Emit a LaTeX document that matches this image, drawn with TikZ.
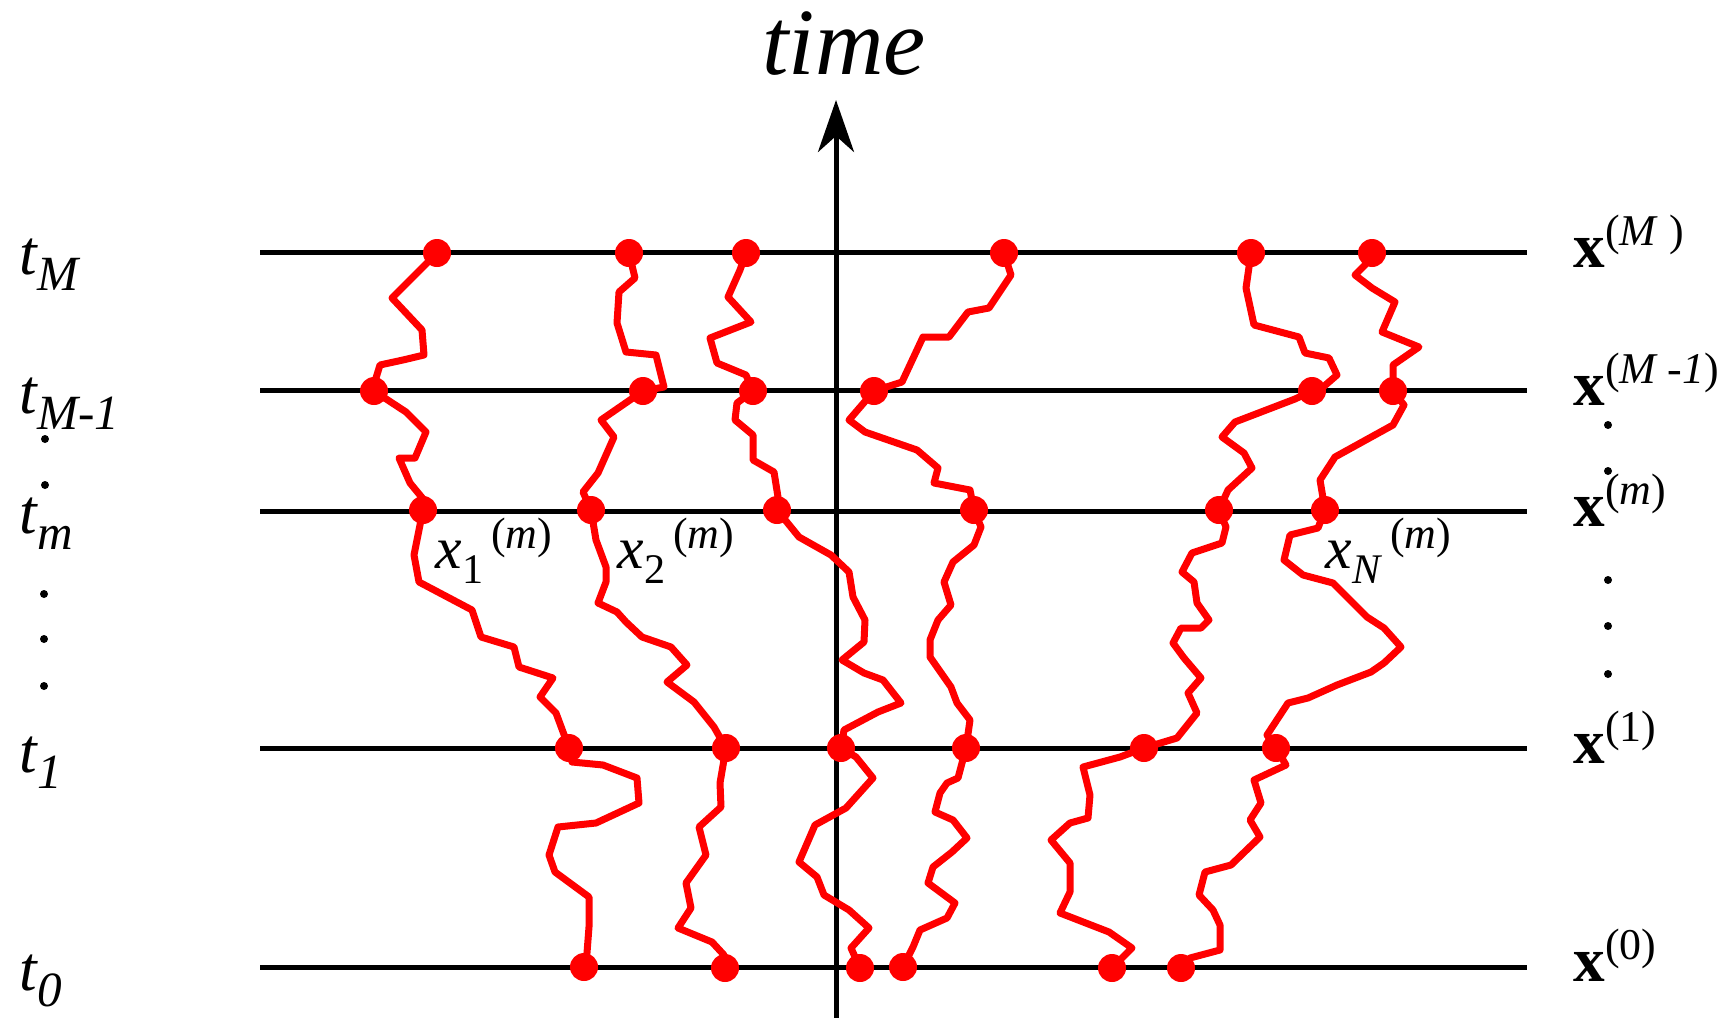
\documentclass[tikz,border=0pt]{standalone}
\usepackage{fontspec}
\setmainfont{Liberation Serif}[ItalicFont={Liberation Serif Italic}, BoldFont={Liberation Serif Bold}]
\usetikzlibrary{arrows.meta}

% labels: time level, state vector, walker
\newcommand{\tlab}[1]{{\fontsize{18}{20}\selectfont\itshape t\raisebox{-1.6mm}{\fontsize{14}{16}\selectfont #1}}}
\newcommand{\xlab}[1]{{\fontsize{18}{20}\selectfont\bfseries x}\raisebox{2.2mm}{\fontsize{12.5}{14}\selectfont(#1)}}
\newcommand{\plab}[1]{{\fontsize{17}{19}\selectfont\itshape x}\raisebox{-1.5mm}{\fontsize{12}{14}\selectfont #1}\kern0.8mm\raisebox{2mm}{\fontsize{12.5}{14}\selectfont(\textit{m})}}

\begin{document}
\begin{tikzpicture}[x=0.1mm, y=-0.1mm,
  level/.style={line width=0.5mm},
  walk/.style={red, line width=0.7mm, line join=round},
  hit/.style={circle, fill=red, inner sep=0pt, minimum size=2.8mm},
  pt/.style={circle, fill=black, inner sep=0pt, minimum size=0.8mm},
  lab/.style={anchor=base west, inner sep=0pt},
  >=Stealth]
\useasboundingbox (0,0) rectangle (1733,1018);

% time levels
\foreach \n/\y in {M/252, M1/390, m/511, 1/748, 0/967} {
  \coordinate (l\n w) at (260,\y);
  \coordinate (l\n e) at (1527,\y);
  \draw[level] (l\n w) -- (l\n e);
}

% time axis
\coordinate (axbot) at (836,1018);
\coordinate (axtop) at (836,100);
\draw[line width=0.5mm, -{Stealth[length=5.2mm, width=3.6mm, inset=1.6mm]}] (axbot) -- (axtop);
\node[anchor=base, inner sep=0pt] (time) at (844,75) {\fontsize{27}{30}\selectfont\itshape time};

% crossing points of the walkers
\coordinate (a0) at (584,967);  \coordinate (a1) at (569,748);  \coordinate (am) at (423,510);
\coordinate (aM1) at (374,391); \coordinate (aM) at (437,253);
\coordinate (b0) at (725,968);  \coordinate (b1) at (726,748);  \coordinate (bm) at (591,510);
\coordinate (bM1) at (643,391); \coordinate (bM) at (629,253);
\coordinate (c0) at (860,968);  \coordinate (c1) at (841,748);  \coordinate (cm) at (777,510);
\coordinate (cM1) at (753,391); \coordinate (cM) at (746,253);
\coordinate (d0) at (903,967);  \coordinate (d1) at (966,748);  \coordinate (dm) at (974,510);
\coordinate (dM1) at (874,391); \coordinate (dM) at (1004,253);
\coordinate (e0) at (1112,968); \coordinate (e1) at (1144,748); \coordinate (em) at (1219,510);
\coordinate (eM1) at (1312,391); \coordinate (eM) at (1251,253);
\coordinate (f0) at (1181,968); \coordinate (f1) at (1276,748); \coordinate (fm) at (1325,510);
\coordinate (fM1) at (1393,391); \coordinate (fM) at (1372,253);

% walkers
\draw[walk] (aM) -- (392,298) -- (422,330) -- (424,355) -- (403,360) -- (380,365) -- (376,378) -- (aM1)
  -- (406,412) -- (426,432) -- (415,458) -- (399,458) -- (410,483) -- (424,500) -- (am)
  -- (414,555) -- (419,582) -- (472,610) -- (481,637) -- (514,647) -- (519,667) -- (553,678)
  -- (540,697) -- (556,713) -- (a1)
  -- (572,762) -- (603,765) -- (637,778) -- (639,803) -- (596,823) -- (558,827) -- (549,855)
  -- (555,872) -- (589,897) -- (589,927) -- (587,953) -- (a0);
\draw[walk] (bM) -- (635,278) -- (619,292) -- (617,323) -- (626,352) -- (656,355) -- (664,387) -- (bM1)
  -- (601,420) -- (614,437) -- (598,473) -- (583,492) -- (bm)
  -- (596,540) -- (606,567) -- (606,582) -- (598,603) -- (617,612) -- (626,622) -- (642,637)
  -- (671,647) -- (687,665) -- (667,682) -- (694,702) -- (714,727) -- (b1)
  -- (720,783) -- (721,807) -- (699,827) -- (706,855) -- (686,883) -- (691,908) -- (678,928)
  -- (712,942) -- (724,955) -- (b0);
\draw[walk] (cM) -- (740,270) -- (728,297) -- (751,322) -- (710,338) -- (717,363) -- (746,375) -- (cM1)
  -- (737,403) -- (735,420) -- (753,435) -- (753,460) -- (774,472) -- (778,497) -- (cm)
  -- (799,537) -- (831,555) -- (849,572) -- (853,597) -- (865,620) -- (864,642) -- (842,660)
  -- (864,673) -- (883,680) -- (901,703) -- (878,712) -- (844,730) -- (c1)
  -- (856,757) -- (873,778) -- (846,808) -- (815,825) -- (799,862) -- (817,877) -- (824,895)
  -- (849,910) -- (869,928) -- (851,948) -- (c0);
\draw[walk] (dM) -- (1011,275) -- (989,308) -- (968,312) -- (949,337) -- (923,337) -- (902,382) -- (dM1)
  -- (849,420) -- (865,432) -- (917,450) -- (938,468) -- (934,483) -- (970,490) -- (dm)
  -- (981,527) -- (974,545) -- (953,562) -- (944,582) -- (951,605) -- (938,620) -- (930,640)
  -- (930,657) -- (951,687) -- (957,703) -- (970,720) -- (d1)
  -- (958,778) -- (947,783) -- (940,793) -- (935,812) -- (953,820) -- (967,838) -- (952,852)
  -- (933,867) -- (928,883) -- (955,903) -- (947,918) -- (920,930) -- (913,947) -- (d0);
\draw[walk] (eM) -- (1246,288) -- (1254,325) -- (1299,337) -- (1305,353) -- (1329,358) -- (1337,375)
  -- (1322,388) -- (eM1)
  -- (1295,399) -- (1235,422) -- (1222,437) -- (1244,453) -- (1252,468) -- (1228,490) -- (em)
  -- (1226,527) -- (1222,543) -- (1192,553) -- (1182,572) -- (1194,582) -- (1197,603) -- (1209,620)
  -- (1201,628) -- (1181,628) -- (1173,643) -- (1184,658) -- (1201,678) -- (1188,693) -- (1197,713)
  -- (1177,738) -- (e1)
  -- (1120,757) -- (1083,767) -- (1090,795) -- (1088,818) -- (1070,823) -- (1051,840) -- (1070,863)
  -- (1070,892) -- (1060,913) -- (1109,932) -- (1132,948) -- (e0);
\draw[walk] (fM) -- (1365,265) -- (1355,275) -- (1372,288) -- (1395,302) -- (1382,332) -- (1419,347)
  -- (1393,365) -- (fM1)
  -- (1404,405) -- (1393,425) -- (1335,457) -- (1320,480) -- (fm)
  -- (1318,528) -- (1290,535) -- (1284,560) -- (1303,575) -- (1333,583) -- (1367,617) -- (1384,628)
  -- (1401,647) -- (1384,663) -- (1371,672) -- (1337,685) -- (1308,698) -- (1288,703) -- (1267,735)
  -- (f1)
  -- (1286,765) -- (1254,780) -- (1261,803) -- (1250,820) -- (1260,837) -- (1231,865) -- (1205,872)
  -- (1199,895) -- (1213,910) -- (1220,925) -- (1220,950) -- (1190,958) -- (f0);

\foreach \w in {a,b,c,d,e,f}
  \foreach \n in {0,1,m,M1,M}
    \node[hit] (h\w\n) at (\w\n) {};

% left labels
\node[lab] (tM) at (19,274) {\tlab{M}};
\node[lab] (tM1) at (19,413) {\tlab{M-1}};
\node[lab] (tm) at (19,533) {\tlab{m}};
\node[lab] (t1) at (19,772) {\tlab{1}};
\node[lab] (t0) at (19,990) {\tlab{0}};
\node[pt] (ld1) at (45,439) {};
\node[pt] (ld2) at (45,485) {};
\node[pt] (ld3) at (44,594) {};
\node[pt] (ld4) at (44,639) {};
\node[pt] (ld5) at (44,686) {};

% right labels
\node[lab] (xM) at (1573,267) {\xlab{\textit{M }}};
\node[lab] (xM1) at (1573,405) {\xlab{\textit{M -1}}};
\node[lab] (xm) at (1573,526) {\xlab{\textit{m}}};
\node[lab] (x1) at (1573,763) {\xlab{1}};
\node[lab] (x0) at (1573,981) {\xlab{0}};
\node[pt] (rd1) at (1608,425) {};
\node[pt] (rd2) at (1608,471) {};
\node[pt] (rd3) at (1608,580) {};
\node[pt] (rd4) at (1608,626) {};
\node[pt] (rd5) at (1608,674) {};

% walker labels
\node[lab] (pa) at (435,568) {\plab{1}};
\node[lab] (pb) at (617,568) {\plab{2}};
\node[lab] (pf) at (1325,568) {\plab{\textit{N}}};
\end{tikzpicture}
\end{document}
